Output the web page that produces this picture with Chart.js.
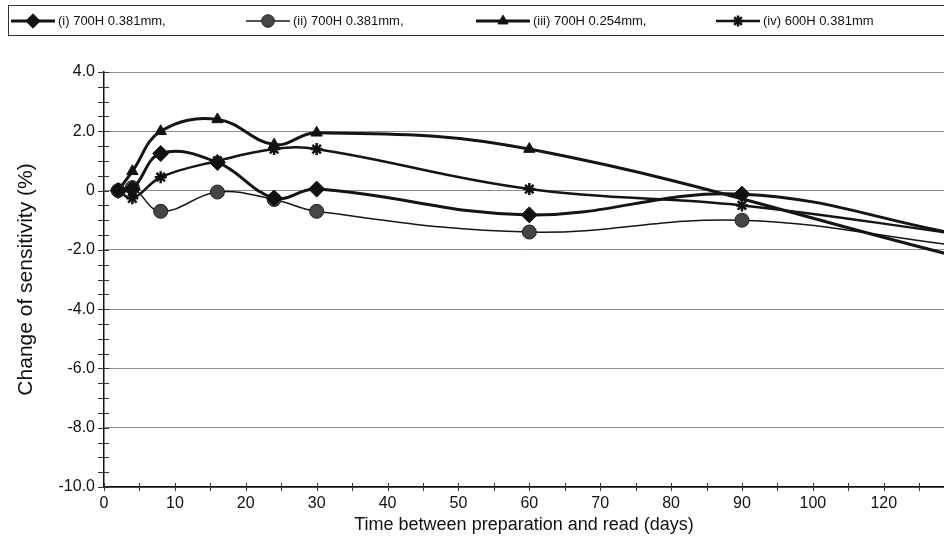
<!DOCTYPE html>
<html>
<head>
<meta charset="utf-8">
<script src="https://cdn.jsdelivr.net/npm/chart.js@4/dist/chart.umd.min.js"></script>
<style>
  body { margin: 0; background: #fff; font-family: "Liberation Sans", Arial, sans-serif; }
  #wrap { position: relative; width: 944px; height: 536px; overflow: hidden; }
  #legend { position: absolute; left: 8px; top: 5px; width: 1000px; height: 29px; border: 1px solid #333; }
  .item { position: absolute; top: 0; height: 29px; display: flex; align-items: center; font-size: 13px; color: #111; }
  .item canvas { margin-right: 3px; }
</style>
</head>
<body>
<div id="wrap">
  <canvas id="chart" width="944" height="536"></canvas>
  <div id="legend"></div>
</div>
<script>
// 測定日 (days)
const days = [2, 4, 8, 16, 24, 30, 60, 90, 120];
const seriesNames = ['(i) 700H 0.381mm,', '(ii) 700H 0.381mm,', '(iii) 700H 0.254mm,', '(iv) 600H 0.381mm'];
const seriesI   = [0, 0.05, 1.25, 0.95, -0.25, 0.05, -0.82, -0.12, -1.45];
const seriesII  = [0, 0.1, -0.7, -0.05, -0.3, -0.7, -1.4, -1.0, -1.85];
const seriesIII = [0, 0.65, 2.0, 2.4, 1.55, 1.95, 1.4, null, -2.2];
const seriesIV  = [0, -0.26, 0.45, 1.0, 1.4, 1.4, 0.05, -0.5, -1.45];

// 軸の目盛りラベル
const yMajorTicks = [4, 2, 0, -2, -4, -6, -8, -10];
const yTickLabels = ['4.0', '2.0', '0', '-2.0', '-4.0', '-6.0', '-8.0', '-10.0'];
const xMajorTicks = [0, 10, 20, 30, 40, 50, 60, 70, 80, 90, 100, 110];
const xTickLabels = ['0', '10', '20', '30', '40', '50', '60', '70', '80', '90', '100', '120'];

const X_MAX = 118.5;

function pts(values) {
  return days.map((d, i) => ({ x: d, y: values[i] }));
}

const styles = [
  { pointStyle: 'rectRot', radius: 8, line: 3, fill: '#111', border: '#111', pbw: 1 },
  { pointStyle: 'circle', radius: 7, line: 1.5, fill: '#454545', border: '#222', pbw: 1 },
  { pointStyle: 'triangle', radius: 6.5, line: 3, fill: '#111', border: '#111', pbw: 1 },
  { pointStyle: 'star', radius: 6, line: 2.5, fill: '#111', border: '#111', pbw: 2.5 }
];

const allSeries = [seriesI, seriesII, seriesIII, seriesIV];

const datasets = allSeries.map((s, i) => {
  const st = styles[i];
  return {
    label: seriesNames[i],
    data: pts(s),
    borderColor: '#141414',
    borderWidth: st.line,
    pointStyle: st.pointStyle,
    pointRadius: ctx => (ctx.raw && ctx.raw.x > X_MAX ? 0 : st.radius),
    pointBackgroundColor: st.fill,
    pointBorderColor: st.border,
    pointBorderWidth: st.pbw,
    tension: 0.4,
    spanGaps: true,
    fill: false
  };
});

// 軸線をまたぐ目盛り
const crossTicks = {
  id: 'crossTicks',
  afterDraw(chart) {
    const { ctx, scales: { x, y }, chartArea } = chart;
    ctx.save();
    ctx.strokeStyle = '#333';
    ctx.lineWidth = 1;
    ctx.beginPath();
    y.ticks.forEach(t => {
      const py = Math.round(y.getPixelForValue(t.value)) + 0.5;
      ctx.moveTo(chartArea.left - 6, py);
      ctx.lineTo(chartArea.left + 5, py);
    });
    x.ticks.forEach(t => {
      const px = Math.round(x.getPixelForValue(t.value)) + 0.5;
      ctx.moveTo(px, chartArea.bottom - 4);
      ctx.lineTo(px, chartArea.bottom + 4);
    });
    ctx.stroke();
    ctx.restore();
  }
};

new Chart(document.getElementById('chart'), {
  type: 'line',
  data: { datasets: datasets },
  options: {
    responsive: false,
    animation: false,
    layout: { autoPadding: false, padding: { top: 72, right: 0, left: 0, bottom: 0 } },
    plugins: { legend: { display: false }, tooltip: { enabled: false } },
    scales: {
      x: {
        type: 'linear',
        min: 0,
        max: X_MAX,
        grid: { display: false, drawTicks: false },
        border: { display: true, color: '#111', width: 1.5 },
        ticks: {
          stepSize: 5,
          includeBounds: false,
          autoSkip: false,
          maxRotation: 0,
          padding: 7,
          color: '#111',
          font: { family: 'Liberation Sans', size: 16 },
          callback: v => {
            const i = xMajorTicks.indexOf(v);
            return i >= 0 ? xTickLabels[i] : '';
          }
        },
        title: {
          display: true,
          text: 'Time between preparation and read (days)',
          color: '#111',
          font: { family: 'Liberation Sans', size: 18 },
          padding: { top: 0, bottom: 0 }
        },
        afterFit: s => { s.height = 49; }
      },
      y: {
        min: -10,
        max: 4,
        grid: {
          drawTicks: false,
          color: c => (yMajorTicks.includes(c.tick.value) ? '#8c8c8c' : 'rgba(0,0,0,0)'),
          lineWidth: 1
        },
        border: { display: true, color: '#111', width: 1.5 },
        ticks: {
          stepSize: 0.5,
          autoSkip: false,
          padding: 9,
          color: '#111',
          font: { family: 'Liberation Sans', size: 16 },
          callback: v => {
            const i = yMajorTicks.indexOf(v);
            return i >= 0 ? yTickLabels[i] : '';
          }
        },
        title: {
          display: true,
          text: 'Change of sensitivity (%)',
          color: '#111',
          font: { family: 'Liberation Sans', size: 21 },
          padding: { top: 14, bottom: 0 }
        },
        afterFit: s => { s.width = 104; }
      }
    }
  },
  plugins: [crossTicks]
});

// 凡例（線＋マーカー）
const legend = document.getElementById('legend');
const itemLeft = [2, 237, 467, 707];
const symbolWidth = [44, 44, 54, 44];
datasets.forEach((ds, i) => {
  const st = styles[i];
  const item = document.createElement('div');
  item.className = 'item';
  item.style.left = itemLeft[i] + 'px';
  const cv = document.createElement('canvas');
  cv.width = symbolWidth[i];
  cv.height = 18;
  const c = cv.getContext('2d');
  c.strokeStyle = ds.borderColor;
  c.lineWidth = st.line;
  c.beginPath();
  c.moveTo(0, 9);
  c.lineTo(cv.width, 9);
  c.stroke();
  c.fillStyle = st.fill;
  c.strokeStyle = st.border;
  c.lineWidth = st.pbw;
  Chart.helpers.drawPoint(c, { pointStyle: st.pointStyle, radius: st.radius * 0.9, rotation: 0, borderWidth: st.pbw }, cv.width / 2, 9);
  const label = document.createElement('span');
  label.textContent = ds.label;
  item.appendChild(cv);
  item.appendChild(label);
  legend.appendChild(item);
});
</script>
</body>
</html>
